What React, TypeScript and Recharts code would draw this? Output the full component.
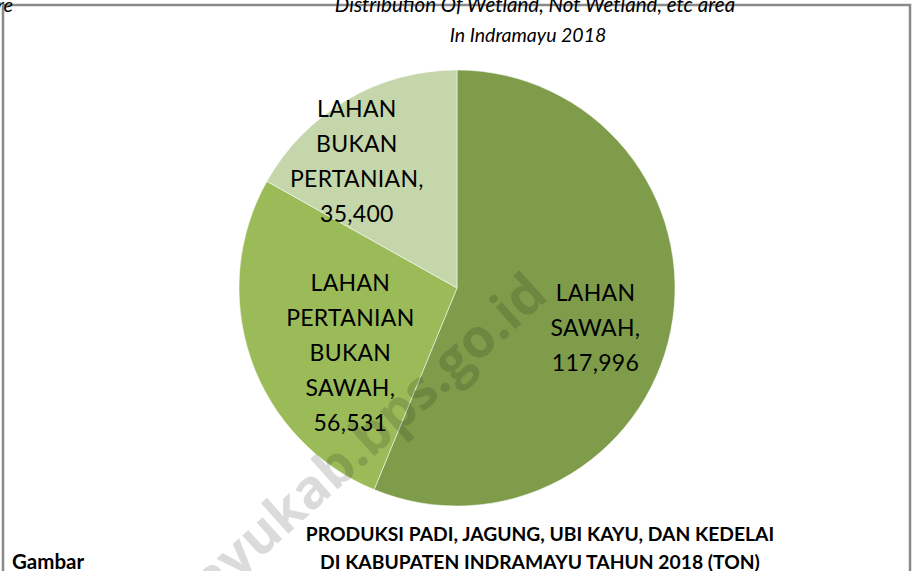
import React from "react";
import { PieChart, Pie, Cell } from "recharts";

// data
const kategori = ["LAHAN SAWAH", "LAHAN PERTANIAN BUKAN SAWAH", "LAHAN BUKAN PERTANIAN"];
const luas = [117996, 56531, 35400];
const warna = ["#7F9C4B", "#9BBB59", "#C5D6AA"];
// label line breaks as shown in the picture
const baris = [
  ["LAHAN", "SAWAH,"],
  ["LAHAN", "PERTANIAN", "BUKAN", "SAWAH,"],
  ["LAHAN", "BUKAN", "PERTANIAN,"],
];
// label placement: fraction of radius and angle nudge (deg) per slice
const jarak = [0.66, 0.57, 0.745];
const geser = [-4.6, 11.7, 7.7];

const W = 913;
const H = 571;
const FONT = "Lato, 'Open Sans', sans-serif";

const data = kategori.map((k, i) => ({ name: k, value: luas[i] }));
const fmt = (v: number) => v.toLocaleString("en-US");

const RAD = Math.PI / 180;

function LabelIsi(props: any) {
  const { cx, cy, midAngle, outerRadius, index, value } = props;
  const r = outerRadius * jarak[index];
  const a = midAngle + geser[index];
  const x = cx + r * Math.cos(-a * RAD);
  const y = cy + r * Math.sin(-a * RAD);
  const lines = [...baris[index], fmt(value)];
  const lh = 35;
  const y0 = y - ((lines.length - 1) * lh) / 2;
  return (
    <text x={x} y={y0} textAnchor="middle" dominantBaseline="central"
      fontFamily={FONT} fontSize={23} fill="#000" letterSpacing={0.3}>
      {lines.map((l, i) => (
        <tspan key={i} x={x} y={y0 + i * lh}>{l}</tspan>
      ))}
    </text>
  );
}

export default function App() {
  return (
    <div style={{ position: "absolute", left: 0, top: 0, width: W, height: H, background: "#fff", overflow: "hidden" }}>
      <PieChart width={W} height={H} margin={{ top: 0, right: 0, bottom: 0, left: 0 }}>
        <Pie
          data={data}
          dataKey="value"
          nameKey="name"
          cx={457}
          cy={288}
          outerRadius={218}
          startAngle={90}
          endAngle={-270}
          stroke="#ffffff"
          strokeWidth={1}
          strokeOpacity={0.5}
          label={LabelIsi}
          labelLine={false}
          isAnimationActive={false}
        >
          {data.map((d, i) => (
            <Cell key={d.name} fill={warna[i]} />
          ))}
        </Pie>
      </PieChart>
      <svg width={W} height={H} style={{ position: "absolute", left: 0, top: 0, pointerEvents: "none" }}>
        {/* bingkai */}
        <path d={`M3,${H + 5} L3,5 L910,5 L910,${H + 5}`} fill="none" stroke="#8a8a8a" strokeWidth={2.5} />
        <text x={-3} y={12} fontFamily={FONT} fontStyle="italic" fontSize={20} fill="#000">re</text>
        <text x={535} y={12} textAnchor="middle" fontFamily={FONT} fontStyle="italic" fontSize={20.5} fill="#000">
          Distribution Of Wetland, Not Wetland, etc area
        </text>
        <text x={528} y={42} textAnchor="middle" fontFamily={FONT} fontStyle="italic" fontSize={19.5} fill="#000">
          In Indramayu 2018
        </text>
        <text x={540} y={541} textAnchor="middle" fontFamily={FONT} fontWeight="bold" fontSize={19.3} fill="#000">
          PRODUKSI PADI, JAGUNG, UBI KAYU, DAN KEDELAI
        </text>
        <text x={540} y={569} textAnchor="middle" fontFamily={FONT} fontWeight="bold" fontSize={19.3} fill="#000">
          DI KABUPATEN INDRAMAYU TAHUN 2018 (TON)
        </text>
        <text x={12} y={569} fontFamily={FONT} fontWeight="bold" fontSize={20.5} fill="#000">Gambar</text>
        {/* watermark */}
        <text x={550} y={298} textAnchor="end" fontFamily="'Open Sans', sans-serif" fontWeight="bold"
          fontSize={54} fill="#000" fillOpacity={0.14} transform="rotate(-42 550 298)">
          indramayukab.bps.go.id
        </text>
      </svg>
    </div>
  );
}
